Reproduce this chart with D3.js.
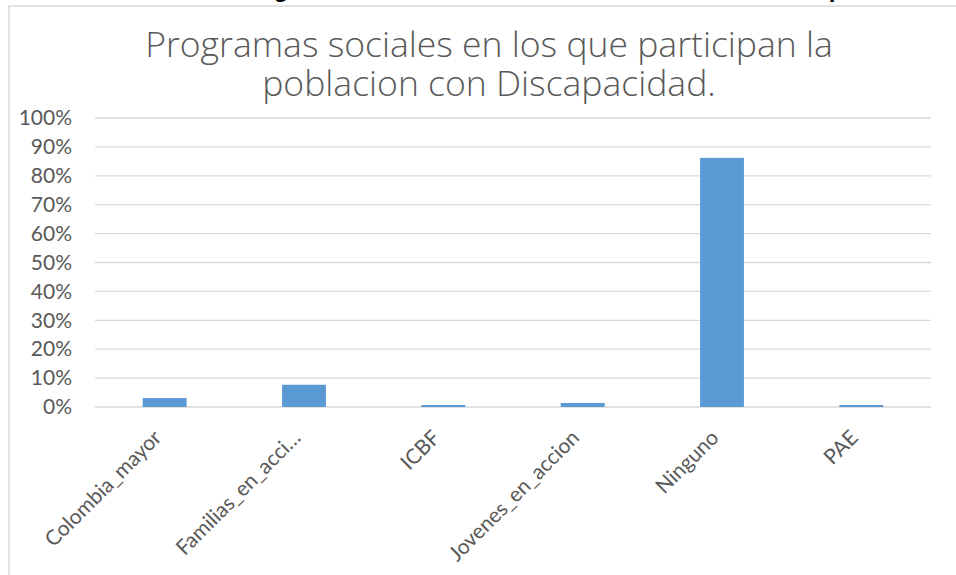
<!DOCTYPE html>
<html><head><meta charset="utf-8">
<script src="https://cdn.jsdelivr.net/npm/d3@7"></script>
<style>body{margin:0;background:#fff;}svg{display:block;}</style>
</head><body>
<svg id="c" width="956" height="575"></svg>
<script>
const categories = ["Colombia_mayor","Familias_en_acci…","ICBF","Jovenes_en_accion","Ninguno","PAE"];
const values = [0.031, 0.077, 0.007, 0.014, 0.862, 0.007];
const yTicks = [0,0.1,0.2,0.3,0.4,0.5,0.6,0.7,0.8,0.9,1.0];
const titleLines = ["Programas sociales en los que participan la","poblacion con Discapacidad."];

const svg = d3.select("#c");
const W = 956, H = 575;
const m = {left:95, right:25, top:118, bottom:168};
const FONT = "Lato, 'Open Sans', sans-serif";

// frame
svg.append("rect").attr("x",9).attr("y",6).attr("width",W).attr("height",H)
  .attr("fill","#fff").attr("stroke","#d9d9d9").attr("stroke-width",1.5);

// cut-off heading descenders above the frame
svg.append("text").attr("x",281).attr("y",-3).attr("text-anchor","middle")
  .attr("font-family","Liberation Sans, Arial").attr("font-weight","bold").attr("font-size",24).attr("fill","#000").text("g");
svg.append("text").attr("x",836).attr("y",-3).attr("text-anchor","middle")
  .attr("font-family","Liberation Sans, Arial").attr("font-weight","bold").attr("font-size",24).attr("fill","#000").text("p");

const x = d3.scaleBand().domain(categories).range([m.left, W-m.right]).paddingInner(0.685).paddingOuter(0.3425);
const y = d3.scaleLinear().domain([0,1]).range([H-m.bottom, m.top]);

// title (two lines)
const tEls = titleLines.map((l,i)=>svg.append("text").attr("text-anchor","middle")
  .attr("font-family","'Open Sans', Lato, sans-serif").attr("font-weight",300).attr("font-size",32)
  .attr("fill","#595959").attr("x",489).attr("y",57+i*39).text(l));
const w1 = tEls[0].node().getComputedTextLength();
if (w1 > 0) tEls.forEach(e=>e.attr("font-size", 32*688/w1));

// grid
svg.append("g").selectAll("line").data(yTicks).join("line")
  .attr("x1",m.left).attr("x2",W-m.right).attr("y1",d=>y(d)).attr("y2",d=>y(d))
  .attr("stroke","#d9d9d9").attr("stroke-width",1.3);

// y axis labels
const yAxis = d3.axisLeft(y).tickValues(yTicks).tickFormat(d3.format(".0%")).tickSize(0).tickPadding(23);
const ya = svg.append("g").attr("transform",`translate(${m.left},0)`).call(yAxis);
ya.select(".domain").remove();
ya.selectAll("text").attr("font-family",FONT).attr("font-size",21).attr("fill","#595959");

// bars
svg.append("g").selectAll("rect").data(values).join("rect")
  .attr("x",(d,i)=>x(categories[i])).attr("width",x.bandwidth())
  .attr("y",d=>y(d)).attr("height",d=>y(0)-y(d)).attr("fill","#5b9bd5");

// x labels
const xAxis = d3.axisBottom(x).tickSize(0).tickPadding(0);
const xa = svg.append("g").attr("transform",`translate(0,${y(0)})`).call(xAxis);
xa.select(".domain").remove();
xa.selectAll("text").attr("font-family",FONT).attr("font-size",21).attr("fill","#595959")
  .attr("text-anchor","end").attr("dy",0).attr("x",0).attr("y",0)
  .attr("transform","translate(-2,32) rotate(-45)");
</script>
</body></html>
